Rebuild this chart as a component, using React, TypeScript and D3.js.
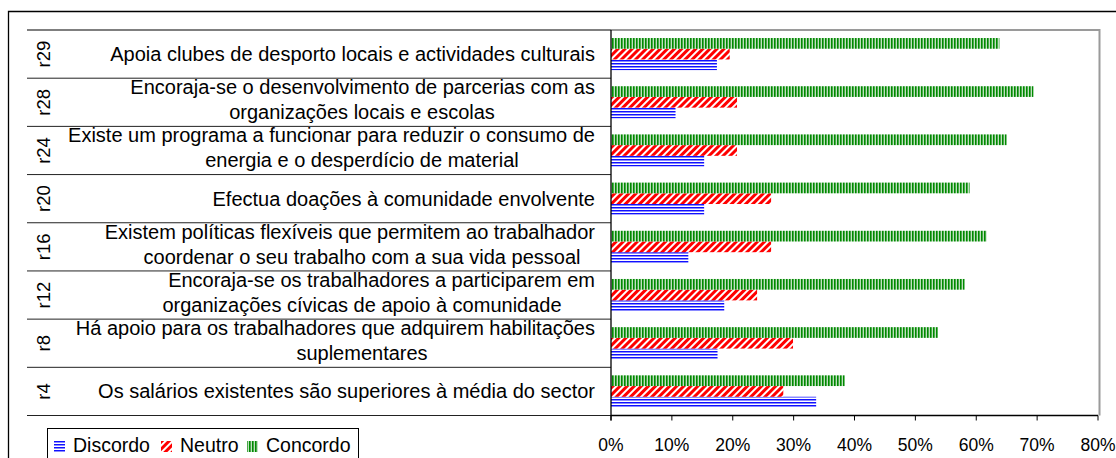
import React from 'react';
import * as d3 from 'd3';

// rows, top to bottom
const codes = ['r29', 'r28', 'r24', 'r20', 'r16', 'r12', 'r8', 'r4'];

const labels = [
  ['Apoia clubes de desporto locais e actividades culturais'],
  ['Encoraja-se o desenvolvimento de parcerias com as', 'organizações locais e escolas'],
  ['Existe um programa a funcionar para reduzir o consumo de', 'energia e o desperdício de material'],
  ['Efectua doações à comunidade envolvente'],
  ['Existem políticas flexíveis que permitem ao trabalhador', 'coordenar o seu trabalho com a sua vida pessoal'],
  ['Encoraja-se os trabalhadores a participarem em', 'organizações cívicas de apoio à comunidade'],
  ['Há apoio para os trabalhadores que adquirem habilitações', 'suplementares'],
  ['Os salários existentes são superiores à média do sector'],
];

const seriesNames = ['Discordo', 'Neutro', 'Concordo'];

// percentages, same order as codes
const discordo = [17.4, 10.6, 15.3, 15.3, 12.7, 18.6, 17.5, 33.7];
const neutro = [19.5, 20.7, 20.7, 26.3, 26.3, 24.0, 29.9, 28.3];
const concordo = [63.8, 69.4, 65.0, 58.9, 61.7, 58.1, 53.7, 38.4];

const xTicks = [0, 10, 20, 30, 40, 50, 60, 70, 80];

const W = 1116;
const H = 458;
const plot = { left: 611, right: 1098, top: 30, bottom: 415.5 };
const tableLeft = 27;
const font = '"Liberation Sans", Arial, sans-serif';

export default function App() {
  const x = d3.scaleLinear().domain([0, 80]).range([plot.left, plot.right]);
  const y = d3.scaleBand<string>().domain(codes).range([plot.top, plot.bottom]);
  // bars inside a row: concordo on top, discordo at bottom
  const inner = d3
    .scaleBand<string>()
    .domain(['Concordo', 'Neutro', 'Discordo'])
    .range([0, y.bandwidth()])
    .paddingOuter(0.75);

  const series = [
    { name: 'Discordo', values: discordo, fill: 'url(#patBlue)' },
    { name: 'Neutro', values: neutro, fill: 'url(#patRed)' },
    { name: 'Concordo', values: concordo, fill: 'url(#patGreen)' },
  ];

  const legendX = [54, 161, 247];

  return (
    <svg
      width={W}
      height={H}
      style={{ position: 'absolute', left: 0, top: 0, background: '#fff' }}
      fontFamily={font}
    >
      <defs>
        <pattern id="patGreen" patternUnits="userSpaceOnUse" width={3} height={4}>
          <rect x={0} y={0} width={1} height={4} fill="#008a00" />
          <rect x={1} y={0} width={1} height={4} fill="#4aa84a" />
          <rect x={2} y={0} width={1} height={4} fill="#bfe0bf" />
        </pattern>
        <pattern id="patRed" patternUnits="userSpaceOnUse" width={5} height={5} patternTransform="rotate(45)">
          <rect x={0} y={0} width={5} height={5} fill="#fff" />
          <rect x={0} y={0} width={3} height={5} fill="#ff0000" />
        </pattern>
        <pattern id="patBlue" patternUnits="userSpaceOnUse" width={4} height={3}>
          <rect x={0} y={0} width={4} height={1} fill="#1010ff" />
          <rect x={0} y={1} width={4} height={1} fill="#8a8aff" />
          <rect x={0} y={2} width={4} height={1} fill="#fff" />
        </pattern>
      </defs>

      {/* outer chart frame */}
      <path d={`M8.5,${H + 2} V11.5 H${W + 2}`} fill="none" stroke="#000" strokeWidth={1.3} />

      {/* plot area border */}
      <path
        d={`M${plot.left},${plot.top} H${plot.right + 1.5} V${plot.bottom}`}
        fill="none"
        stroke="#9a9a9a"
        strokeWidth={2}
      />
      <line x1={tableLeft} x2={plot.left} y1={plot.top} y2={plot.top} stroke="#555" strokeWidth={1.3} />

      {/* table separators */}
      {codes.map((c) => (
        <line
          key={'sep' + c}
          x1={tableLeft}
          x2={plot.left}
          y1={(y(c) as number) + y.bandwidth()}
          y2={(y(c) as number) + y.bandwidth()}
          stroke="#222"
          strokeWidth={1}
        />
      ))}

      {/* bars */}
      {series.map((s) =>
        codes.map((c, i) => (
          <rect
            key={s.name + c}
            x={x(0)}
            y={(y(c) as number) + (inner(s.name) as number)}
            width={x(s.values[i]) - x(0)}
            height={inner.bandwidth()}
            fill={s.fill}
          />
        ))
      )}

      {/* axes */}
      <line x1={plot.left} x2={plot.left} y1={plot.top} y2={plot.bottom + 5} stroke="#000" strokeWidth={1.3} />
      <line x1={plot.left} x2={plot.right} y1={plot.bottom} y2={plot.bottom} stroke="#000" strokeWidth={1.3} />
      {xTicks.map((t) => (
        <g key={'t' + t}>
          <line x1={x(t)} x2={x(t)} y1={plot.bottom} y2={plot.bottom + 5} stroke="#000" strokeWidth={1} />
          <text x={x(t)} y={451} textAnchor="middle" fontSize={17.5} fill="#000">
            {d3.format('.0%')(t / 100)}
          </text>
        </g>
      ))}

      {/* row codes and labels */}
      {codes.map((c, i) => {
        const cy = (y(c) as number) + y.bandwidth() / 2;
        const lines = labels[i];
        return (
          <g key={'lab' + c}>
            <text
              transform={`translate(49.5,${cy}) rotate(-90)`}
              textAnchor="middle"
              fontSize={18.5}
              fill="#000"
            >
              {c}
            </text>
            {lines.map((ln, j) => {
              const ly = lines.length === 1 ? cy + 7 : cy + (j === 0 ? -8 : 17);
              return (
                <text
                  key={j}
                  x={j === 0 ? 595 : 362}
                  y={ly}
                  textAnchor={j === 0 ? 'end' : 'middle'}
                  fontSize={20}
                  fill="#000"
                >
                  {ln}
                </text>
              );
            })}
          </g>
        );
      })}

      {/* legend */}
      <rect x={47.5} y={428.5} width={311} height={40} fill="#fff" stroke="#000" strokeWidth={1} />
      {seriesNames.map((n, i) => (
        <g key={'leg' + n}>
          <rect x={legendX[i]} y={441} width={11} height={11} fill={series[i].fill} />
          <text x={legendX[i] + 19} y={452} fontSize={19.5} fill="#000">
            {n}
          </text>
        </g>
      ))}
    </svg>
  );
}
